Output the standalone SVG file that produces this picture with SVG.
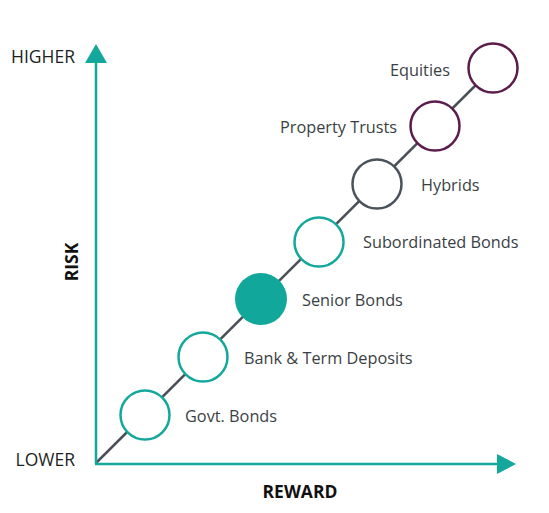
<svg xmlns="http://www.w3.org/2000/svg" width="549" height="513" viewBox="0 0 549 513">
<style>
.lbl{font-family:"Open Sans","Liberation Sans",sans-serif;font-size:16.3px;fill:#3a3f45}
.ax{font-family:"Open Sans","Liberation Sans",sans-serif;font-size:17.5px;fill:#1d1f22}
.axb{font-family:"Open Sans","Liberation Sans",sans-serif;font-size:17.5px;font-weight:bold;fill:#111}
.c{fill:#fff;stroke-width:2.5}
.teal{stroke:#14a89c}
.gray{stroke:#4a535b}
.purple{stroke:#5c1d4c}
</style>
<rect width="549" height="513" fill="#fff"/>
<g id="connectors">
<line x1="96" y1="463" x2="493" y2="68" stroke="#4b5058" stroke-width="2.5"/>
<line x1="96" y1="464" x2="96" y2="58" stroke="#14a89c" stroke-width="2.5"/>
<polygon points="96,44 107,63 85,63" fill="#14a89c"/>
<line x1="95" y1="464" x2="502" y2="464" stroke="#14a89c" stroke-width="2.5"/>
<polygon points="516,464 497,454 497,474" fill="#14a89c"/>
</g>
<g id="axis-labels">
<text class="ax" x="75" y="63" text-anchor="end">HIGHER</text>
<text class="ax" x="75" y="466" text-anchor="end">LOWER</text>
<text class="axb" transform="translate(78,262) rotate(-90)" text-anchor="middle">RISK</text>
<text class="axb" x="300" y="498" text-anchor="middle">REWARD</text>
</g>
<g id="govt-bonds">
<circle class="c teal" cx="145" cy="415" r="24.5"/>
<text class="lbl" x="185" y="422">Govt. Bonds</text>
</g>
<g id="bank-term-deposits">
<circle class="c teal" cx="203" cy="357" r="24.5"/>
<text class="lbl" x="244" y="364">Bank &amp; Term Deposits</text>
</g>
<g id="senior-bonds">
<circle cx="261" cy="299" r="26" fill="#11a89b"/>
<text class="lbl" x="302" y="306">Senior Bonds</text>
</g>
<g id="subordinated-bonds">
<circle class="c teal" cx="319" cy="242" r="24.5"/>
<text class="lbl" x="363" y="248">Subordinated Bonds</text>
</g>
<g id="hybrids">
<circle class="c gray" cx="377" cy="184" r="24.5"/>
<text class="lbl" x="421" y="191">Hybrids</text>
</g>
<g id="property-trusts">
<circle class="c purple" cx="435" cy="126" r="24.5"/>
<text class="lbl" x="280" y="133">Property Trusts</text>
</g>
<g id="equities">
<circle class="c purple" cx="493" cy="68" r="24.5"/>
<text class="lbl" x="390" y="76">Equities</text>
</g>
</svg>
